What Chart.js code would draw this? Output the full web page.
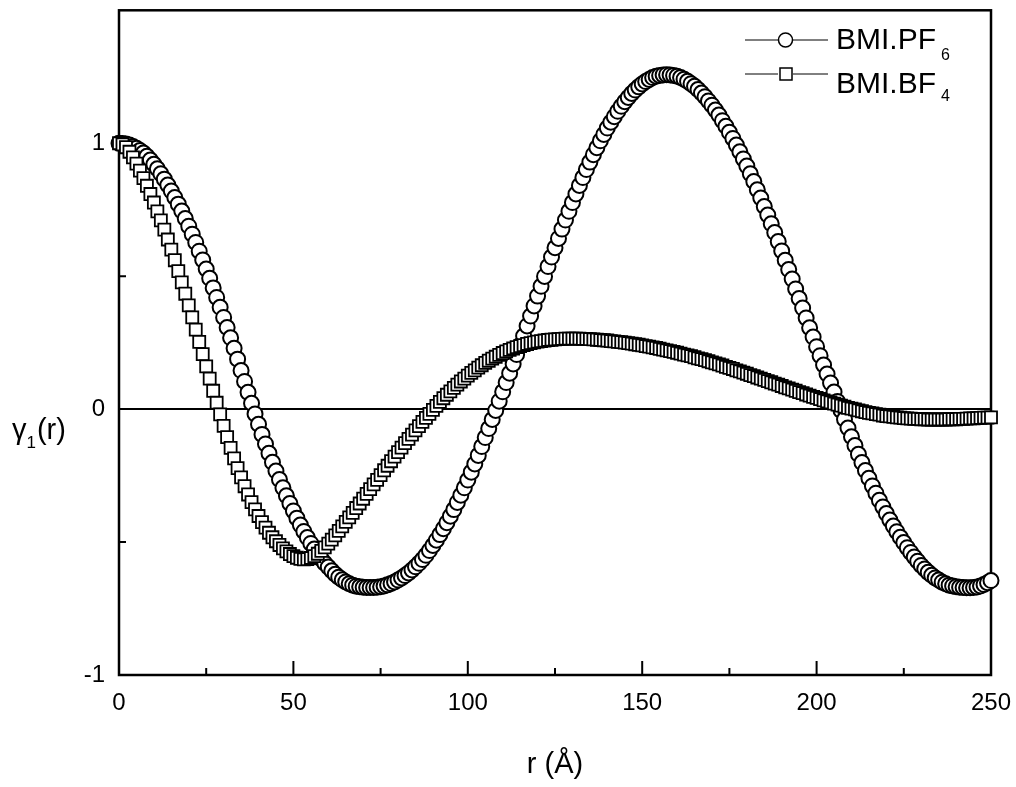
<!DOCTYPE html>
<html>
<head>
<meta charset="utf-8">
<script src="https://cdn.jsdelivr.net/npm/chart.js@4"></script>
<style>
html,body{margin:0;padding:0;background:#fff;}
#wrap{width:1016px;height:787px;}
</style>
</head>
<body>
<div id="wrap"><canvas id="c" width="1016" height="787"></canvas></div>
<script>
// r values (Å)
const rValues = [
0,1,2,3,4,5,6,7,8,9,10,11,12,13,14,15,16,17,18,19,20,21,22,23,24,25,26,27,28,29,
30,31,32,33,34,35,36,37,38,39,40,41,42,43,44,45,46,47,48,49,50,51,52,53,54,55,56,57,58,59,
60,61,62,63,64,65,66,67,68,69,70,71,72,73,74,75,76,77,78,79,80,81,82,83,84,85,86,87,88,89,
90,91,92,93,94,95,96,97,98,99,100,101,102,103,104,105,106,107,108,109,110,111,112,113,114,115,116,117,118,119,
120,121,122,123,124,125,126,127,128,129,130,131,132,133,134,135,136,137,138,139,140,141,142,143,144,145,146,147,148,149,
150,151,152,153,154,155,156,157,158,159,160,161,162,163,164,165,166,167,168,169,170,171,172,173,174,175,176,177,178,179,
180,181,182,183,184,185,186,187,188,189,190,191,192,193,194,195,196,197,198,199,200,201,202,203,204,205,206,207,208,209,
210,211,212,213,214,215,216,217,218,219,220,221,222,223,224,225,226,227,228,229,230,231,232,233,234,235,236,237,238,239,
240,241,242,243,244,245,246,247,248,249,250
];

// BMI.PF6 (circles)
const pf6Values = [
1.000,0.999,0.997,0.993,0.988,0.981,0.973,0.963,0.951,0.937,
0.921,0.904,0.885,0.865,0.843,0.820,0.796,0.771,0.745,0.717,
0.688,0.658,0.627,0.594,0.561,0.527,0.492,0.456,0.420,0.383,
0.345,0.307,0.268,0.229,0.188,0.145,0.104,0.063,0.022,-0.018,
-0.057,-0.095,-0.131,-0.166,-0.200,-0.233,-0.265,-0.296,-0.326,-0.355,
-0.383,-0.410,-0.436,-0.460,-0.483,-0.505,-0.526,-0.546,-0.564,-0.580,
-0.594,-0.608,-0.621,-0.632,-0.642,-0.650,-0.657,-0.662,-0.666,-0.668,
-0.670,-0.671,-0.671,-0.671,-0.670,-0.668,-0.665,-0.661,-0.656,-0.650,
-0.643,-0.635,-0.626,-0.616,-0.605,-0.593,-0.580,-0.566,-0.550,-0.532,
-0.513,-0.493,-0.472,-0.450,-0.427,-0.403,-0.378,-0.351,-0.324,-0.296,
-0.267,-0.237,-0.206,-0.174,-0.141,-0.107,-0.073,-0.039,-0.005,0.030,
0.065,0.100,0.135,0.170,0.205,0.240,0.275,0.313,0.350,0.388,
0.425,0.462,0.499,0.536,0.572,0.607,0.642,0.677,0.711,0.744,
0.777,0.809,0.841,0.871,0.901,0.929,0.957,0.983,1.009,1.033,
1.057,1.079,1.100,1.120,1.139,1.156,1.172,1.187,1.200,1.212,
1.223,1.232,1.240,1.247,1.252,1.255,1.257,1.258,1.257,1.255,
1.252,1.247,1.241,1.233,1.224,1.214,1.202,1.189,1.175,1.159,
1.143,1.125,1.106,1.085,1.064,1.041,1.018,0.993,0.968,0.941,
0.914,0.885,0.856,0.825,0.794,0.762,0.730,0.697,0.664,0.630,
0.595,0.560,0.525,0.489,0.452,0.416,0.380,0.343,0.306,0.271,
0.235,0.201,0.166,0.132,0.098,0.064,0.029,-0.005,-0.038,-0.071,
-0.104,-0.137,-0.170,-0.201,-0.231,-0.260,-0.289,-0.316,-0.343,-0.368,
-0.393,-0.417,-0.440,-0.461,-0.482,-0.502,-0.521,-0.539,-0.556,-0.572,
-0.588,-0.601,-0.614,-0.625,-0.635,-0.643,-0.651,-0.657,-0.662,-0.665,
-0.668,-0.670,-0.671,-0.672,-0.672,-0.671,-0.669,-0.665,-0.660,-0.653,
-0.645
];

// BMI.BF4 (squares)
const bf4Values = [
1.000,0.996,0.985,0.968,0.947,0.923,0.897,0.869,0.840,0.809,
0.777,0.744,0.710,0.675,0.638,0.600,0.560,0.519,0.477,0.434,
0.390,0.345,0.299,0.253,0.207,0.161,0.115,0.069,0.024,-0.020,
-0.063,-0.105,-0.146,-0.185,-0.222,-0.257,-0.290,-0.321,-0.350,-0.377,
-0.402,-0.425,-0.446,-0.465,-0.482,-0.497,-0.511,-0.524,-0.535,-0.545,
-0.553,-0.559,-0.563,-0.565,-0.564,-0.560,-0.553,-0.544,-0.533,-0.520,
-0.506,-0.491,-0.475,-0.458,-0.441,-0.424,-0.407,-0.390,-0.372,-0.355,
-0.337,-0.319,-0.301,-0.283,-0.266,-0.248,-0.230,-0.213,-0.196,-0.179,
-0.162,-0.145,-0.128,-0.112,-0.096,-0.080,-0.064,-0.048,-0.033,-0.018,
-0.003,0.012,0.027,0.041,0.054,0.067,0.080,0.092,0.104,0.115,
0.126,0.136,0.146,0.156,0.165,0.174,0.182,0.190,0.197,0.204,
0.211,0.217,0.223,0.228,0.233,0.237,0.241,0.245,0.248,0.251,
0.254,0.256,0.258,0.260,0.261,0.262,0.263,0.264,0.265,0.265,
0.265,0.265,0.265,0.264,0.264,0.263,0.262,0.261,0.260,0.259,
0.258,0.256,0.255,0.253,0.252,0.250,0.248,0.246,0.244,0.242,
0.240,0.237,0.235,0.232,0.230,0.227,0.224,0.221,0.218,0.215,
0.212,0.209,0.205,0.202,0.199,0.195,0.191,0.188,0.184,0.180,
0.176,0.172,0.168,0.164,0.159,0.155,0.151,0.146,0.142,0.137,
0.133,0.128,0.124,0.119,0.115,0.110,0.105,0.101,0.096,0.092,
0.087,0.082,0.078,0.073,0.069,0.064,0.060,0.055,0.051,0.046,
0.042,0.038,0.033,0.029,0.025,0.021,0.017,0.013,0.009,0.005,
0.002,-0.001,-0.005,-0.008,-0.011,-0.014,-0.016,-0.019,-0.021,-0.024,
-0.026,-0.027,-0.029,-0.031,-0.032,-0.034,-0.035,-0.036,-0.037,-0.037,
-0.038,-0.038,-0.039,-0.039,-0.039,-0.039,-0.039,-0.039,-0.038,-0.038,
-0.038,-0.037,-0.037,-0.036,-0.035,-0.035,-0.034,-0.033,-0.032,-0.032,
-0.031
];

// Ticks and labels
const xMajorTicks = [0, 50, 100, 150, 200, 250];
const xMinorTicks = [25, 75, 125, 175, 225];
const yMajorTicks = [-1, 0, 1];
const yMinorTicks = [-0.5, 0.5];
const yTickLabels = { '-1': '-1', '0': '0', '1': '1' };
const seriesNames = ['BMI.PF', 'BMI.BF'];
const seriesSubs = ['6', '4'];
const xTitle = 'r (Å)';
const yTitleMain = 'γ';
const yTitleSub = '1';
const yTitleTail = '(r)';

const FONT = "'Liberation Sans', Arial, Helvetica, sans-serif";

function toPoints(xs, ys) { return xs.map((x, i) => ({ x: x, y: ys[i] })); }

const framePlugin = {
  id: 'frame',
  beforeDatasetsDraw(chart) {
    const { ctx, chartArea: a, scales: { x, y } } = chart;
    ctx.save();
    ctx.strokeStyle = '#000';
    ctx.lineWidth = 2.5;
    ctx.strokeRect(a.left, a.top, a.right - a.left, a.bottom - a.top);
    ctx.lineWidth = 2;
    ctx.beginPath();
    xMajorTicks.forEach(v => { const p = x.getPixelForValue(v); ctx.moveTo(p, a.bottom); ctx.lineTo(p, a.bottom - 14); });
    xMinorTicks.forEach(v => { const p = x.getPixelForValue(v); ctx.moveTo(p, a.bottom); ctx.lineTo(p, a.bottom - 7); });
    yMajorTicks.forEach(v => { const p = y.getPixelForValue(v); ctx.moveTo(a.left, p); ctx.lineTo(a.left + 14, p); });
    yMinorTicks.forEach(v => { const p = y.getPixelForValue(v); ctx.moveTo(a.left, p); ctx.lineTo(a.left + 7, p); });
    ctx.stroke();
    ctx.restore();
  },
  afterDraw(chart) {
    const { ctx } = chart;
    ctx.save();
    ctx.fillStyle = '#000';
    ctx.textBaseline = 'alphabetic';
    ctx.textAlign = 'left';
    // y axis title (horizontal)
    ctx.font = '29px ' + FONT;
    ctx.fillText(yTitleMain, 12, 439);
    let w = ctx.measureText(yTitleMain).width;
    ctx.font = '17px ' + FONT;
    ctx.fillText(yTitleSub, 12 + w, 448);
    let w2 = ctx.measureText(yTitleSub).width;
    ctx.font = '29px ' + FONT;
    ctx.fillText(yTitleTail, 12 + w + w2 + 1, 439);

    // legend
    const rows = [{ cy: 40, base: 49, subBase: 60, style: 'circle' }, { cy: 74, base: 93, subBase: 101, style: 'rect' }];
    rows.forEach((r, i) => {
      ctx.strokeStyle = '#000';
      ctx.lineWidth = 1;
      ctx.beginPath();
      ctx.moveTo(745, r.cy); ctx.lineTo(778, r.cy);
      ctx.moveTo(793, r.cy); ctx.lineTo(828, r.cy);
      ctx.stroke();
      ctx.lineWidth = 1.5;
      ctx.fillStyle = '#fff';
      ctx.beginPath();
      if (r.style === 'circle') {
        ctx.arc(785.5, r.cy, 7, 0, Math.PI * 2);
      } else {
        ctx.rect(780, r.cy - 6, 12, 12);
      }
      ctx.fill();
      ctx.stroke();
      ctx.fillStyle = '#000';
      ctx.font = '30px ' + FONT;
      ctx.fillText(seriesNames[i], 836, r.base);
      const tw = ctx.measureText(seriesNames[i]).width;
      ctx.font = '16px ' + FONT;
      ctx.fillText(seriesSubs[i], 836 + tw + 5, r.subBase);
    });
    ctx.restore();
  }
};

new Chart(document.getElementById('c'), {
  type: 'scatter',
  data: {
    datasets: [
      {
        label: 'BMI.PF6',
        data: toPoints(rValues, pf6Values),
        showLine: false,
        pointStyle: 'circle',
        pointRadius: 7.5,
        pointBorderWidth: 2,
        pointBorderColor: '#000',
        pointBackgroundColor: '#fff',
        borderColor: '#000',
        backgroundColor: '#fff',
        clip: false,
        order: 1
      },
      {
        label: 'BMI.BF4',
        data: toPoints(rValues, bf4Values),
        showLine: false,
        pointStyle: 'rect',
        pointRadius: 8.5,
        pointBorderWidth: 1.8,
        pointBorderColor: '#000',
        pointBackgroundColor: '#fff',
        borderColor: '#000',
        backgroundColor: '#fff',
        clip: false,
        order: 0
      }
    ]
  },
  options: {
    responsive: false,
    animation: false,
    devicePixelRatio: 1,
    layout: { padding: { top: 6, right: 25, left: 0, bottom: 0 } },
    plugins: {
      legend: { display: false },
      tooltip: { enabled: false }
    },
    elements: { point: { hoverRadius: 7.5 } },
    scales: {
      x: {
        type: 'linear',
        min: 0, max: 250,
        afterFit(s) { s.height = 112; s.paddingLeft = 0; s.paddingRight = 0; },
        afterBuildTicks(s) { s.ticks = xMajorTicks.map(v => ({ value: v })); },
        ticks: {
          color: '#000',
          font: { family: FONT, size: 24 },
          padding: 14,
          maxRotation: 0,
          callback: v => String(v)
        },
        grid: { display: false, drawTicks: false },
        border: { display: false },
        title: {
          display: true,
          text: xTitle,
          color: '#000',
          font: { family: FONT, size: 29 },
          padding: { top: 0, bottom: 5 }
        }
      },
      y: {
        type: 'linear',
        min: -1, max: 1.5,
        afterFit(s) { s.width = 119; s.paddingTop = 0; s.paddingBottom = 0; },
        afterBuildTicks(s) { s.ticks = yMajorTicks.map(v => ({ value: v })); },
        ticks: {
          color: '#000',
          font: { family: FONT, size: 24 },
          padding: 14,
          callback: v => (yTickLabels[String(v)] !== undefined ? yTickLabels[String(v)] : '')
        },
        grid: {
          drawTicks: false,
          color: c => (c.tick && c.tick.value === 0 ? '#000' : 'rgba(0,0,0,0)'),
          lineWidth: 2
        },
        border: { display: false }
      }
    }
  },
  plugins: [framePlugin]
});
</script>
</body>
</html>
